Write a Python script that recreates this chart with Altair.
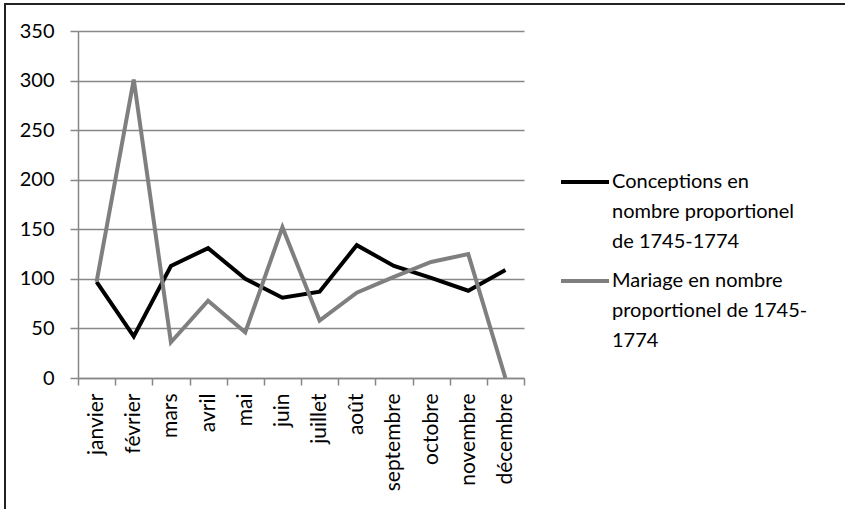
import altair as alt
import pandas as pd

# Monthly indices, 1745-1774
months = ["janvier", "février", "mars", "avril", "mai", "juin", "juillet",
          "août", "septembre", "octobre", "novembre", "décembre"]
conceptions = [97, 42, 113, 131, 100, 81, 87, 134, 113, 101, 88, 109]
mariages = [97, 301, 36, 78, 46, 152, 58, 86, 102, 117, 125, 0]

series_names = ["Conceptions en nombre proportionel de 1745-1774",
                "Mariage en nombre proportionel de  1745-1774"]
legend_lines = [["Conceptions en", "nombre proportionel", "de 1745-1774"],
                ["Mariage en nombre", "proportionel de  1745-", "1774"]]
series_colors = ["#000000", "#7f7f7f"]
y_ticks = [0, 50, 100, 150, 200, 250, 300, 350]

FONT = "Lato"
GRID = "#878787"

rows = []
for name, vals in zip(series_names, [conceptions, mariages]):
    for m, v in zip(months, vals):
        rows.append({"mois": m, "valeur": v, "serie": name})
df = pd.DataFrame(rows)

legend_df = pd.DataFrame({"serie": series_names, "texte": legend_lines})

color = alt.Color("serie:N", scale=alt.Scale(domain=series_names, range=series_colors),
                  legend=None)

lines = alt.Chart(df).mark_line(strokeWidth=4, strokeJoin="miter").encode(
    x=alt.X("mois:N", sort=months,
            scale=alt.Scale(type="band", paddingInner=0, paddingOuter=0),
            axis=alt.Axis(title=None, labelAngle=-90, tickBand="extent", tickSize=7,
                          labelPadding=8, domainColor=GRID, tickColor=GRID,
                          domainWidth=1.5, tickWidth=1.5, grid=False,
                          labelFont=FONT, labelFontSize=21, labelColor="#000")),
    y=alt.Y("valeur:Q", scale=alt.Scale(domain=[0, 350], nice=False),
            axis=alt.Axis(title=None, values=y_ticks, tickSize=8, labelPadding=16,
                          gridColor=GRID, gridWidth=1.5, domainColor=GRID, domainWidth=1.5,
                          tickColor=GRID, tickWidth=1.5, labelFont=FONT,
                          labelFontSize=20, labelColor="#000")),
    color=color,
)

legend_y = alt.Y("serie:N",
                 scale=alt.Scale(type="point", domain=series_names, range=[151, 250], padding=0),
                 axis=None)

legend_symbols = alt.Chart(legend_df).mark_rule(strokeWidth=4).encode(
    x=alt.value(483), x2=alt.value(531), y=legend_y, color=color,
)

legend_text = alt.Chart(legend_df).mark_text(
    align="left", baseline="alphabetic", dy=6, lineHeight=30,
    font=FONT, fontSize=20, color="#000",
).encode(x=alt.value(534), y=legend_y, text="texte")

# outer frame (top and left edges)
frame_top = alt.Chart(legend_df).mark_rule(strokeWidth=2, color="#222").encode(
    x=alt.value(-74), x2=alt.value(767), y=alt.value(-27))
frame_left = alt.Chart(legend_df).mark_rule(strokeWidth=2, color="#222").encode(
    x=alt.value(-73), y=alt.value(-28), y2=alt.value(478))

chart = alt.layer(lines, legend_symbols, legend_text, frame_top, frame_left).resolve_scale(
    y="independent"
).properties(
    width=446, height=347,
    padding={"left": 78, "top": 31, "right": 321, "bottom": 131},
    autosize=alt.AutoSizeParams(type="none"),
).configure_view(stroke=None)

chart.save("out.html", embed_options={"renderer": "svg", "actions": False})
